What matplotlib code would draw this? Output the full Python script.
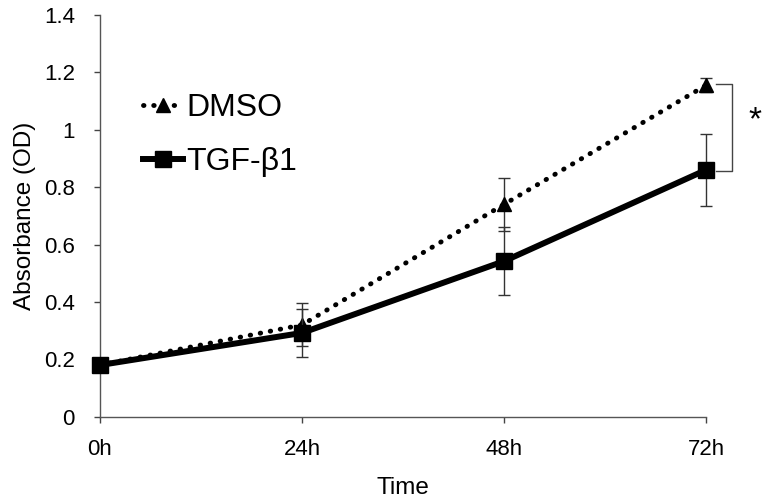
"""
Absorbance over time for DMSO vs TGF-beta1 treated cells.
"""

import matplotlib.pyplot as plt

plt.rcParams['font.family'] = ['Liberation Sans', 'DejaVu Sans']

time_labels = ["0h", "24h", "48h", "72h"]
dmso = [0.18, 0.32, 0.74, 1.155]
dmso_err = [0.0, 0.075, 0.093, 0.025]
tgf = [0.18, 0.292, 0.542, 0.86]
tgf_err = [0.0, 0.084, 0.118, 0.125]

x = list(range(len(time_labels)))

fig = plt.figure(figsize=(7.65, 5), dpi=100)
ax = fig.add_axes([0.1307, 0.1666, 0.7922, 0.8034])

d = ax.errorbar(x, dmso, yerr=dmso_err, color="black", lw=3.5,
                linestyle=(0, (0.1, 2.0)), dash_capstyle="round",
                marker="^", markersize=10, ecolor="#333333", elinewidth=1,
                capsize=4, capthick=1, label="DMSO", clip_on=False, zorder=3)
t = ax.errorbar(x, tgf, yerr=tgf_err, color="black", lw=4.3,
                marker="s", markersize=11, ecolor="#333333", elinewidth=1,
                capsize=4, capthick=1, label="TGF-β1", clip_on=False, zorder=4)

# significance bracket at 72h
ax.plot([3.05, 3.13, 3.13, 3.05], [dmso[3] + 0.005, dmso[3] + 0.005, tgf[3] - 0.005, tgf[3] - 0.005],
        color="#444444", lw=1, clip_on=False)
ax.text(3.24, 1.03, "*", fontsize=24, ha="center", va="center")

ax.set_xlim(0, 3)
ax.set_ylim(0, 1.4)
ax.set_xticks(x)
ax.set_xticklabels(time_labels)
ax.set_yticks([0, 0.2, 0.4, 0.6, 0.8, 1.0, 1.2, 1.4])
ax.set_yticklabels(["0", "0.2", "0.4", "0.6", "0.8", "1", "1.2", "1.4"])
ax.tick_params(axis="both", labelsize=16, length=4, width=1, color="#444444")
ax.tick_params(axis="y", pad=14)
ax.tick_params(axis="x", pad=12)

for side in ["top", "right"]:
    ax.spines[side].set_visible(False)
for side in ["left", "bottom"]:
    ax.spines[side].set_color("#555555")
    ax.spines[side].set_linewidth(1)

ax.set_xlabel("Time", fontsize=17.5, labelpad=12)
ax.set_ylabel("Absorbance (OD)", fontsize=17.5, labelpad=6)

ax.legend(handles=[d[0], t[0]], labels=["DMSO", "TGF-β1"],
          loc="upper left", bbox_to_anchor=(0.0235, 0.878), frameon=False,
          fontsize=23, handlelength=1.25, handletextpad=0.12, labelspacing=0.75)

fig.savefig("out.png", dpi=100)
